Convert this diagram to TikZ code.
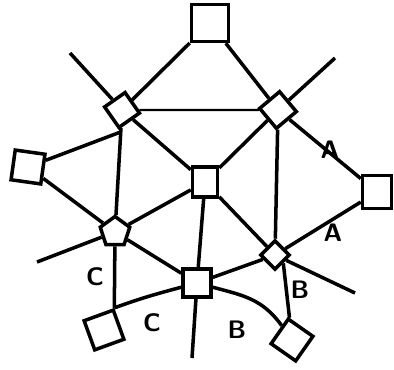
\documentclass[tikz,border=0pt]{standalone}
\usepackage{tikz}
\usetikzlibrary{shapes.geometric,calc}

\begin{document}
\begin{tikzpicture}[
    x=0.02cm, y=0.02cm,
    sq/.style={draw, line width=2pt, fill=white, inner sep=0pt},
    pent/.style={draw, regular polygon, regular polygon sides=5, line width=2pt, fill=white, inner sep=0pt},
    wire/.style={line width=2pt},
    thinwire/.style={line width=1.3pt},
    lbl/.style={font=\sffamily\Large\bfseries}
]
\useasboundingbox (0,0) rectangle (394,369);

% Free ends
\coordinate (ulend) at (70,316);
\coordinate (urend) at (335,311);
\coordinate (llend) at (37,107);
\coordinate (lrend) at (355,76);
\coordinate (bend) at (192,11);

% Nodes
\node[sq, minimum size=0.74cm] (top) at (210,346) {};
\node[sq, minimum size=0.5cm, rotate=35] (ul) at (122,259) {};
\node[sq, minimum size=0.52cm, rotate=40] (ur) at (278,259) {};
\node[sq, minimum width=0.5cm, minimum height=0.6cm] (cen) at (205,187) {};
\node[sq, minimum size=0.6cm, rotate=-8] (ls) at (28,202) {};
\node[sq, minimum width=0.58cm, minimum height=0.66cm] (rs) at (377,177) {};
\node[pent, minimum size=0.62cm] (ll) at (115,137) {};
\node[sq, minimum size=0.4cm, rotate=45] (lr) at (275,114) {};
\node[sq, minimum size=0.56cm] (bs) at (197,86) {};
\node[sq, minimum size=0.62cm, rotate=20] (bl) at (104,39) {};
\node[sq, minimum size=0.6cm, rotate=-35] (br) at (292,29) {};

\coordinate (ulj) at ($(ul)!0.18!(ll)$);

% Edges
\draw[wire] (ulend) -- (ul);
\draw[wire] (urend) -- (ur);
\draw[wire] (llend) -- (ll);
\draw[wire] (lrend) -- (lr);
\draw[wire] (bend) -- (bs);
\draw[wire] (top) -- (ul);
\draw[wire] (top) -- (ur);
\draw[thinwire] (ul) -- (ur);
\draw[wire] (ul) -- (cen);
\draw[wire] (ur) -- (cen);
\draw[wire] (ul) -- (ll);
\draw[wire] (ls) -- (ulj);
\draw[wire] (ls) -- (ll);
\draw[wire] (ll) -- (cen);
\draw[wire] (ll) -- (bs);
\draw[wire] (ll) -- (bl.north east);
\draw[wire] (cen) -- (bs);
\draw[wire] (cen) -- (lr);
\draw[wire] (ur) -- (lr);
\draw[wire] (ur) -- (rs);
\draw[wire] (rs) -- (lr);
\draw[wire] (lr) -- (bs);
\draw[wire] (lr.south) -- (br);
\draw[wire] (bl.north east) to[out=20,in=195] (bs);
\draw[wire] (bs) to[out=-15,in=140] (br);

% Labels
\node[lbl] (la1) at (330,219) {A};
\node[lbl] (la2) at (333,136) {A};
\node[lbl] (lb1) at (300,79) {B};
\node[lbl] (lb2) at (237,39) {B};
\node[lbl] (lc1) at (95,92) {C};
\node[lbl] (lc2) at (152,46) {C};

\end{tikzpicture}
\end{document}
